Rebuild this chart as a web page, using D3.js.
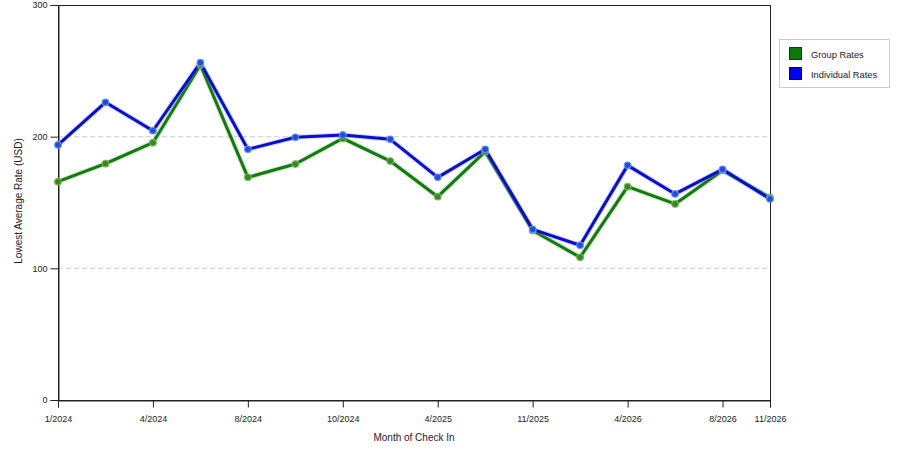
<!DOCTYPE html>
<html>
<head>
<meta charset="utf-8">
<script src="https://cdn.jsdelivr.net/npm/d3@7"></script>
<style>
  body { margin: 0; background: #fff; }
  svg { display: block; font-family: "Liberation Sans", Arial, sans-serif; }
</style>
</head>
<body>
<svg id="chart" width="900" height="450"></svg>
<script>
// ---- data ----
const months = ["1/2024","3/2024","4/2024","6/2024","8/2024","9/2024","10/2024","12/2024",
                "4/2025","7/2025","11/2025","2/2026","4/2026","6/2026","8/2026","11/2026"];
const tickLabels = ["1/2024","4/2024","8/2024","10/2024","4/2025","11/2025","4/2026","8/2026","11/2026"];
const groupRates = [165.8,179.5,195.4,254.4,169.1,179.2,198.7,181.5,154.4,188.6,128.7,108.4,162.0,148.9,174.3,153.8];
const individualRates = [193.7,226.1,204.5,256.2,190.4,199.5,201.3,198.0,169.1,190.4,129.6,117.5,178.2,156.5,175.2,152.7];
const yTicks = [0,100,200,300];
const seriesNames = ["Group Rates","Individual Rates"];

const svg = d3.select("#chart");
const m = {left: 58, right: 770, top: 5, bottom: 400};

const x = d3.scalePoint().domain(months).range([m.left, m.right]);
const y = d3.scaleLinear().domain([0, 300]).range([m.bottom, m.top]);

// grid
svg.append("g").selectAll("line").data([100,200]).join("line")
  .attr("x1", m.left).attr("x2", m.right)
  .attr("y1", d => y(d)).attr("y2", d => y(d))
  .attr("stroke", "#d0d0d0").attr("stroke-dasharray", "5,3").attr("stroke-width", 1);

// frame
svg.append("rect").attr("x", m.left + 0.5).attr("y", m.top + 0.5)
  .attr("width", m.right - m.left).attr("height", m.bottom - m.top)
  .attr("fill", "none").attr("stroke", "#222").attr("stroke-width", 1);

// y axis
const yAxis = svg.append("g").attr("transform", `translate(${m.left + 0.5},0)`)
  .call(d3.axisLeft(y).tickValues(yTicks).tickSize(8).tickPadding(3).tickFormat(d3.format("d")));
yAxis.select(".domain").attr("stroke", "#222");
yAxis.selectAll(".tick line").attr("stroke", "#222");
yAxis.selectAll("text").attr("font-size", 9).attr("fill", "#222").attr("font-family", "Liberation Sans, Arial, sans-serif");

// x axis
const xAxis = svg.append("g").attr("transform", `translate(0,${m.bottom + 0.5})`)
  .call(d3.axisBottom(x).tickValues(tickLabels).tickSize(7).tickPadding(8));
xAxis.select(".domain").attr("stroke", "#222");
xAxis.selectAll(".tick line").attr("stroke", "#222");
xAxis.selectAll("text").attr("font-size", 9).attr("fill", "#222").attr("font-family", "Liberation Sans, Arial, sans-serif");

// axis titles
svg.append("text").attr("x", 414).attr("y", 441).attr("text-anchor", "middle")
  .attr("font-size", 10).attr("fill", "#222").text("Month of Check In");
svg.append("text").attr("transform", "translate(22,201) rotate(-90)").attr("text-anchor", "middle")
  .attr("font-size", 10).attr("fill", "#222").text("Lowest Average Rate (USD)");

// series
const series = [
  {name: seriesNames[0], values: groupRates, line: "#117a11", dot: "#2f8a1f", halo: "#7ab35a"},
  {name: seriesNames[1], values: individualRates, line: "#0c0ccc", dot: "#1a4ee6", halo: "#6f8fef"}
];
const line = d3.line().x((d, i) => x(months[i])).y(d => y(d));

series.forEach(s => {
  svg.append("path").datum(s.values).attr("d", line)
    .attr("fill", "none").attr("stroke", s.halo).attr("stroke-opacity", 0.35).attr("stroke-width", 5)
    .attr("stroke-linejoin", "round");
  svg.append("path").datum(s.values).attr("d", line)
    .attr("fill", "none").attr("stroke", s.line).attr("stroke-width", 3)
    .attr("stroke-linejoin", "round");
});
series.forEach(s => {
  svg.append("g").selectAll("circle").data(s.values).join("circle")
    .attr("cx", (d, i) => x(months[i])).attr("cy", d => y(d)).attr("r", 3.3)
    .attr("fill", s.dot).attr("stroke", s.halo).attr("stroke-width", 1.1);
});

// legend
const lg = svg.append("g");
lg.append("rect").attr("x", 779.5).attr("y", 39.5).attr("width", 110).attr("height", 48)
  .attr("fill", "#fff").attr("stroke", "#cccccc");
const legColors = [{fill: "#0a7a0a", stroke: "#0a3f0a"}, {fill: "#0000ee", stroke: "#000066"}];
seriesNames.forEach((n, i) => {
  lg.append("rect").attr("x", 789.5).attr("y", 47.5 + i * 20).attr("width", 12).attr("height", 12)
    .attr("fill", legColors[i].fill).attr("stroke", legColors[i].stroke);
  lg.append("text").attr("x", 811).attr("y", 57.5 + i * 20).attr("font-size", 9.3)
    .attr("fill", "#222").text(n);
});
</script>
</body>
</html>
